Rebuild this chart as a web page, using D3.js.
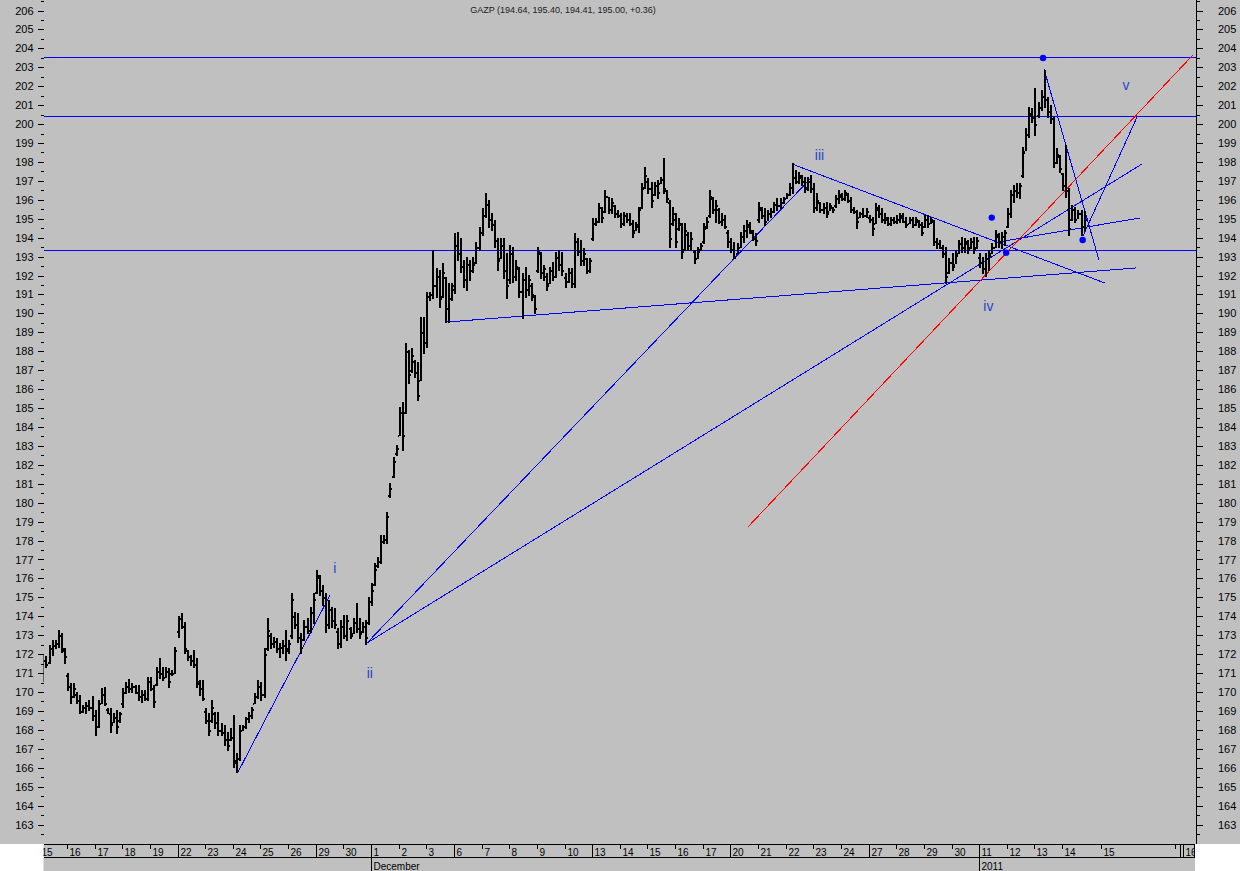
<!DOCTYPE html>
<html><head><meta charset="utf-8">
<script src="https://cdn.jsdelivr.net/npm/d3@7"></script>
<style>html,body{margin:0;padding:0;background:#fff;}svg{display:block}</style>
</head><body>
<svg id="c" width="1240" height="871"></svg>
<script>
// ---- DATA (hourly bars, slot index = array index + 1) ----
const titleText = "GAZP (194.64, 195.40, 194.41, 195.00, +0.36)";
const highs = [
171.95,171.92,172.48,172.75,172.75,173.27,173.10,172.30,
171.00,170.46,170.49,170.00,169.84,169.30,169.49,169.58,169.79,
169.05,169.60,170.19,170.28,169.14,169.14,168.87,169.05,168.96,
170.19,170.54,170.67,170.46,170.37,170.37,170.10,170.10,170.77,
170.77,170.37,171.34,171.78,171.34,171.34,171.25,171.16,172.39,
174.01,174.19,173.71,172.22,171.95,172.22,171.78,170.63,170.63,
169.14,168.87,169.58,168.96,168.96,168.34,168.26,167.90,168.08,
168.78,166.80,168.26,168.26,168.70,168.96,169.22,169.93,170.63,
170.54,172.30,173.89,173.10,172.92,172.83,172.57,172.75,173.27,
172.75,175.21,174.24,174.15,173.10,173.80,173.89,174.50,175.21,
176.44,176.18,175.65,175.21,174.86,174.51,174.42,173.36,173.80,
174.07,174.07,173.45,173.89,174.68,173.89,173.71,173.80,175.00,
175.74,176.80,177.15,178.29,178.29,179.53,181.02,182.43,183.05,
185.07,185.34,188.42,188.07,188.15,187.54,187.45,189.83,189.83,
191.15,191.15,193.35,192.38,192.29,192.64,191.94,191.59,191.59,
194.23,194.32,193.96,192.82,193.00,192.82,193.00,193.79,194.58,
195.55,196.34,195.99,195.29,194.93,193.96,193.96,193.96,193.17,
193.61,193.53,192.82,192.47,192.12,192.47,192.03,191.59,190.97,
193.53,193.26,192.56,192.12,192.47,192.73,193.26,193.35,193.26,
192.12,192.38,192.38,194.23,193.96,193.88,193.44,192.91,192.91,
195.02,195.02,195.81,195.64,196.52,196.17,196.08,195.73,195.46,
195.28,195.37,195.28,195.28,194.93,194.85,195.64,196.87,197.75,
197.13,196.96,196.96,197.05,197.22,198.19,196.52,195.99,195.64,
195.28,195.02,194.76,194.76,194.32,194.32,193.35,193.52,193.70,
194.76,195.11,196.52,196.17,195.99,195.55,195.28,195.20,194.40,
193.96,193.79,193.70,194.32,194.67,194.93,194.85,194.40,194.23,
195.90,195.64,195.55,195.46,195.55,195.90,196.08,196.08,196.17,
196.34,196.87,197.93,197.57,197.49,197.31,197.22,197.22,197.31,
196.87,196.34,195.90,195.81,195.90,195.81,195.64,196.26,196.52,
196.34,196.52,196.34,196.17,195.64,195.46,195.37,195.55,195.55,
195.20,195.11,195.81,195.73,195.55,195.28,195.11,195.11,195.11,
195.20,195.29,195.29,195.11,195.11,195.11,195.11,194.93,194.84,
195.20,195.20,195.11,194.93,193.96,193.87,193.61,193.52,192.91,
193.17,193.35,193.87,194.05,193.96,193.87,193.96,194.05,194.05,
193.17,192.99,193.17,193.35,193.70,194.40,194.23,194.32,194.40,
195.55,196.52,196.78,196.87,196.87,198.81,199.78,200.92,200.83,
201.89,201.18,201.80,202.86,201.45,201.01,200.39,198.72,198.37,
197.40,198.90,196.61,195.73,195.64,195.46,195.46,195.40];
const lows = [
170.60,171.30,171.55,171.95,172.30,172.39,172.13,171.55,
170.10,169.43,169.75,169.40,168.87,168.96,168.87,169.05,168.52,
167.73,168.17,169.40,169.31,168.87,167.90,168.43,167.82,168.43,
169.22,169.93,170.02,170.02,169.93,169.58,169.49,169.58,169.58,
170.10,169.22,170.37,170.72,170.63,170.81,170.28,170.90,170.99,
172.92,173.36,172.04,171.69,171.42,171.34,170.28,169.84,169.58,
168.34,167.73,168.43,168.08,167.73,167.73,167.20,166.94,167.46,
166.05,165.75,166.41,168.00,168.08,168.43,168.61,169.40,169.66,
169.58,169.75,172.22,172.30,172.40,172.13,171.86,172.04,171.69,
172.04,172.83,173.36,172.66,172.04,172.75,173.10,173.19,173.63,
175.21,175.12,174.60,173.19,173.36,173.45,173.36,172.30,172.40,
172.83,172.75,172.83,173.10,173.19,172.83,173.19,172.55,173.60,
174.60,175.65,176.62,176.80,177.85,177.85,180.32,181.37,182.52,
183.57,182.78,184.72,186.30,186.92,186.66,185.42,186.48,187.89,
188.24,190.71,190.80,190.88,190.35,190.88,189.56,189.56,190.71,
191.06,192.82,192.20,191.41,191.24,191.76,192.20,192.64,193.35,
194.14,195.11,194.58,194.40,193.53,192.29,192.91,191.85,190.80,
191.59,191.67,191.76,190.88,189.74,190.88,190.97,190.71,190.00,
192.20,191.85,191.76,191.24,191.59,191.76,191.94,192.29,192.03,
191.41,191.68,191.41,191.41,193.08,192.56,192.56,192.12,192.20,
193.88,194.67,194.85,194.85,195.37,195.28,195.28,195.11,195.11,
194.58,194.67,194.85,194.67,194.05,194.40,194.32,195.55,196.61,
196.34,195.64,196.26,196.08,196.87,196.34,195.90,193.52,194.67,
193.52,194.40,192.91,193.35,193.35,193.35,192.64,192.91,193.35,
193.70,194.49,195.11,195.28,194.85,194.76,194.67,194.49,193.52,
193.26,192.91,193.17,193.52,193.79,194.05,194.23,193.88,193.61,
194.85,195.02,194.67,194.93,195.11,195.37,195.46,195.55,195.81,
196.08,196.25,196.34,196.87,196.87,196.78,196.43,196.52,196.43,
195.37,195.46,195.37,195.28,195.11,195.46,195.37,195.64,195.81,
195.99,195.99,195.90,195.37,195.29,194.49,195.11,195.11,195.11,
194.85,194.14,194.76,195.11,194.85,194.76,194.67,194.67,194.76,
194.76,194.85,194.85,194.58,194.76,194.58,194.67,194.58,194.14,
194.58,194.58,194.76,193.61,193.44,193.44,192.99,191.59,192.12,
192.29,192.64,193.17,193.26,193.26,193.17,193.44,193.17,193.44,
192.47,192.12,191.95,192.29,193.17,193.52,193.52,193.43,193.61,
194.58,195.11,195.90,196.17,196.08,197.22,198.63,199.34,200.13,
199.42,200.39,200.74,200.92,200.39,200.04,197.75,197.93,197.49,
196.52,196.17,194.14,194.93,194.84,195.02,194.14,194.41];
const opens = [
170.8,171.7,171.6,172.3,172.5,172.6,173.0,172.2,
170.9,170.3,169.8,169.9,169.6,169.0,169.2,169.3,169.2,
168.8,168.2,169.4,169.9,169.1,168.9,168.4,168.7,168.5,
169.4,170.0,170.3,170.2,170.3,170.0,169.8,169.9,169.7,
170.6,170.2,170.4,171.1,171.0,170.8,171.1,171.0,171.0,
173.2,173.9,173.5,172.2,171.9,171.7,171.5,170.5,170.2,
169.0,168.5,168.5,168.9,168.4,168.0,167.9,167.5,167.5,
167.6,166.3,166.5,168.0,168.2,168.6,168.8,169.4,169.8,
170.3,169.9,172.3,173.0,172.6,172.7,172.3,172.4,172.5,
172.3,173.0,174.0,173.6,172.9,172.8,173.5,173.3,174.2,
175.3,176.1,175.4,175.0,173.6,174.4,173.8,173.2,172.6,
173.5,173.0,173.4,173.1,173.7,173.4,173.2,173.5,173.7,
174.8,175.7,176.7,176.9,178.0,178.1,180.4,181.4,182.6,
183.6,184.8,184.8,188.0,187.0,187.5,186.9,186.5,189.0,
188.5,190.9,191.0,191.5,192.0,190.9,191.9,190.3,190.8,
191.5,193.6,193.2,192.5,191.8,192.6,192.3,192.7,193.5,
194.3,195.2,195.8,195.0,194.7,193.9,192.9,193.6,192.3,
191.8,193.2,192.0,192.4,191.2,191.8,191.3,191.5,190.9,
192.3,193.2,192.2,192.0,191.6,192.3,192.0,193.0,192.6,
191.9,191.7,192.2,191.6,193.8,193.3,192.8,192.9,192.3,
194.0,194.8,194.9,195.6,195.4,196.2,195.5,195.7,195.3,
195.2,194.8,195.2,195.0,194.8,194.4,194.6,195.6,196.7,
197.0,196.6,196.3,196.8,196.9,197.1,196.5,195.9,194.8,
195.0,194.5,194.7,193.4,194.2,193.6,193.3,192.9,193.4,
193.8,194.6,195.2,196.1,195.5,195.5,194.9,195.0,194.3,
193.8,193.4,193.2,193.5,194.1,194.4,194.6,194.3,194.0,
195.0,195.5,195.2,194.9,195.3,195.4,195.8,195.7,195.9,
196.1,196.3,196.7,197.2,197.0,197.2,197.0,196.7,197.0,
196.6,195.6,195.9,195.5,195.6,195.4,195.6,195.7,196.1,
196.2,196.1,196.3,196.0,195.5,195.4,195.1,195.3,195.2,
195.1,195.0,194.8,195.5,195.3,195.0,195.0,194.8,195.0,
194.9,195.0,195.1,194.9,194.8,195.0,194.7,194.9,194.7,
194.6,195.0,194.8,194.9,193.8,193.7,193.5,193.2,192.2,
192.7,192.6,193.2,193.7,193.5,193.7,193.5,193.8,193.5,
193.0,192.7,192.4,192.9,193.2,193.5,194.1,193.8,194.1,
194.6,195.3,196.3,196.5,196.4,197.3,198.6,199.5,200.5,
200.4,200.5,200.9,201.5,201.3,200.7,200.3,198.0,198.3,
197.4,196.8,196.5,195.0,195.5,195.0,195.3,194.64];
const closes = [
171.7,171.5,172.3,172.5,172.6,173.0,172.3,171.9,
170.3,169.8,170.2,169.6,169.0,169.2,169.3,169.2,168.8,
168.2,169.4,169.9,169.4,168.9,168.3,168.7,168.2,168.9,
170.0,170.3,170.2,170.3,170.0,169.8,169.9,169.7,170.6,
170.2,169.5,171.1,171.0,170.8,171.1,170.6,171.0,172.2,
173.9,173.5,172.3,171.9,171.7,171.5,170.6,170.2,169.7,
168.5,168.0,169.2,168.4,168.0,167.9,167.5,167.2,167.6,
166.4,166.5,168.0,168.2,168.6,168.8,169.1,169.8,170.3,
169.9,172.0,173.3,172.6,172.7,172.3,172.4,172.5,172.2,
172.6,174.9,173.6,172.9,172.4,173.5,173.3,174.2,174.9,
176.2,175.4,175.0,173.6,174.4,173.8,173.6,172.6,173.5,
173.0,173.8,173.0,173.7,173.4,173.1,173.5,172.9,174.8,
175.4,176.5,176.9,178.0,178.1,179.3,180.8,182.2,182.9,
184.8,183.6,188.0,186.8,187.8,186.9,185.7,189.0,188.5,
190.9,191.0,191.5,192.0,190.8,192.2,190.3,190.8,191.3,
193.6,193.2,192.5,191.8,192.6,192.3,192.6,193.5,194.3,
195.2,195.8,195.0,194.7,193.9,192.8,193.6,192.3,191.5,
193.2,192.0,192.5,191.2,191.8,191.3,191.8,191.0,190.3,
193.3,192.2,192.4,191.5,192.3,192.0,193.0,192.6,192.3,
191.7,192.2,191.6,193.8,193.3,192.8,193.2,192.3,192.8,
194.8,194.9,195.6,195.1,196.2,195.5,195.9,195.3,195.2,
194.8,195.2,195.0,194.8,194.3,194.7,195.5,196.6,197.3,
196.6,196.0,196.8,196.4,197.1,196.6,196.1,194.0,195.3,
193.8,194.8,193.3,194.4,193.6,194.0,192.9,193.3,193.6,
194.5,194.9,196.2,195.5,195.7,194.9,195.0,194.6,193.8,
193.4,193.0,193.5,194.1,194.4,194.7,194.4,194.0,193.9,
195.6,195.2,194.9,195.3,195.4,195.8,195.7,195.9,196.1,
196.3,196.7,197.2,197.0,197.3,197.0,196.6,197.0,196.6,
195.6,196.0,195.5,195.6,195.3,195.7,195.5,196.1,196.3,
196.1,196.4,196.0,195.5,195.4,194.9,195.3,195.2,195.4,
195.0,194.5,195.6,195.3,195.0,195.1,194.8,195.0,194.9,
195.0,195.2,194.9,194.7,195.0,194.7,195.0,194.7,194.3,
195.0,194.8,195.0,193.8,193.7,193.5,193.2,192.0,192.7,
192.5,193.1,193.7,193.5,193.8,193.4,193.8,193.4,193.9,
192.7,192.4,192.9,193.1,193.5,194.2,193.8,194.1,194.3,
195.3,196.3,196.5,196.4,196.8,198.5,199.5,200.6,200.4,
200.0,200.9,201.5,201.3,200.7,200.3,198.0,198.4,197.7,
196.8,196.5,194.5,195.5,195.0,195.3,194.6,195.00];

// trading days (9 hourly slots each), first day starts at slot 0
const dayLabels = ['15','16','17','18','19','22','23','24','25','26','29','30',
 '1','2','3','6','7','8','9','10','13','14','15','16','17','20','21','22','23','24','27','28','29','30',
 '11','12','13','14'];
const weekStartDays = [0,5,10,15,20,25,30];
const monthStarts = [{day:12,label:'December'},{day:34,label:'2011'}];
const futureTicks = [{slot:345.8,label:'15',kind:'short'},{slot:369.8,label:'',kind:'short'},{slot:371.4,label:'',kind:'long'},{slot:372.4,label:'16',kind:'long'}];
const slotsPerDay = 9;

// horizontal levels
const levels = [203.52, 200.43, 193.35];
// trend lines: [slot1, price1, slot2, price2, colour]
const trendLines = [
 [64.7,165.77, 94.65,175.12,'blue'],
 [106.7,172.59, 251.6,197.21,'blue'],
 [106.7,172.59, 359.0,197.89,'blue'],
 [132.4,189.54, 357.1,192.40,'blue'],
 [245.1,197.89, 347.0,191.60,'blue'],
 [230.7,178.71, 375.6,203.65,'red'],
 [327.1,202.91, 345.0,192.82,'blue'],
 [312.1,193.77, 358.4,195.04,'blue'],
 [339.8,194.09, 357.4,200.37,'blue']
];
const dots = [[326.8,203.49],[310.1,195.06],[314.8,193.20],[339.7,193.88]];
const waveLabels = [
 {t:'i',slot:96.2,p:176.3},
 {t:'ii',slot:107.6,p:170.75},
 {t:'iii',slot:254.0,p:198.1},
 {t:'iv',slot:309.0,p:190.1},
 {t:'v',slot:353.8,p:201.8}
];
const yMajor = d3.range(163,207);
const yMinor = d3.range(162.5,207,1);

// ---- DRAW ----
const W=1240,H=871, plotL=43.5, plotR=1196, plotB=844, stripR=1195;
const font = "'Liberation Sans', Arial, sans-serif";
const svg = d3.select('#c');
const x = d3.scaleLinear().domain([0,376.6]).range([39.3,1196]);
const y = d3.scaleLinear().domain([163,206]).range([824.5,10.5]);

svg.append('rect').attr('width',W).attr('height',plotB).attr('fill','#c0c0c0');
svg.append('rect').attr('x',plotL).attr('y',plotB).attr('width',stripR-plotL).attr('height',H-plotB).attr('fill','#c0c0c0');

svg.append('defs').append('clipPath').attr('id','clip').append('rect')
  .attr('x',plotL).attr('y',0).attr('width',plotR-plotL).attr('height',plotB);
svg.append('defs').append('clipPath').attr('id','clipAx').append('rect')
  .attr('x',plotL).attr('y',plotB).attr('width',stripR-plotL).attr('height',H-plotB);

// title
svg.append('text').attr('x',563).attr('y',13).attr('text-anchor','middle')
  .attr('font-family',font).attr('font-size',9).attr('fill','#202020').text(titleText);

// y axes
function styleAxis(g){ g.select('.domain').remove(); g.selectAll('text').attr('font-family',font).attr('font-size',11).attr('fill','#000'); g.selectAll('line').attr('stroke','#000').attr('shape-rendering','crispEdges'); }
svg.append('g').attr('transform',`translate(${plotL},0)`).call(d3.axisLeft(y).tickValues(yMajor).tickSize(6).tickPadding(4).tickFormat(d3.format('d'))).call(styleAxis);
svg.append('g').attr('transform',`translate(${plotL},0)`).call(d3.axisLeft(y).tickValues(yMinor).tickSize(3).tickFormat('')).call(styleAxis);
svg.append('g').attr('transform',`translate(${plotR},0)`).call(d3.axisRight(y).tickValues(yMajor).tickSize(7).tickPadding(15).tickFormat(d3.format('d'))).call(styleAxis);
svg.append('g').attr('transform',`translate(${plotR},0)`).call(d3.axisRight(y).tickValues(yMinor).tickSize(4).tickFormat('')).call(styleAxis);
svg.append('line').attr('x1',plotR+0.5).attr('x2',plotR+0.5).attr('y1',0).attr('y2',plotB).attr('stroke','#000');

// plot content
const g = svg.append('g').attr('clip-path','url(#clip)').attr('shape-rendering','crispEdges');
levels.forEach(p=>{
  const yy=Math.round(y(p))+0.5;
  g.append('line').attr('x1',plotL).attr('x2',plotR).attr('y1',yy).attr('y2',yy).attr('stroke','#0000ff').attr('stroke-width',1);
});
trendLines.forEach(l=>{
  g.append('line').attr('x1',x(l[0])).attr('y1',y(l[1])).attr('x2',x(l[2])).attr('y2',y(l[3]))
   .attr('stroke',l[4]==='red'?'#ff0000':'#0000ff').attr('stroke-width',1);
});
const bars = g.append('g');
highs.forEach((h,i)=>{
  const s=i+1, xl=Math.round(x(s));
  const yt=Math.round(y(h)), yb=Math.round(y(lows[i]));
  bars.append('rect').attr('x',xl).attr('y',yt).attr('width',2).attr('height',Math.max(1,yb-yt+1)).attr('fill','#000');
  bars.append('rect').attr('x',xl-1).attr('y',Math.round(y(opens[i]))).attr('width',1).attr('height',2).attr('fill','#000');
  bars.append('rect').attr('x',xl+2).attr('y',Math.round(y(closes[i]))).attr('width',1).attr('height',2).attr('fill','#000');
});
dots.forEach(d=>{
  g.append('circle').attr('cx',x(d[0])).attr('cy',y(d[1])).attr('r',3.2).attr('fill','#0000ff').attr('shape-rendering','auto');
});
waveLabels.forEach(w=>{
  g.append('text').attr('x',x(w.slot)).attr('y',y(w.p)).attr('text-anchor','middle')
   .attr('font-family',font).attr('font-size',14).attr('fill','#2a44c8').text(w.t);
});

// bottom date axis
const ax = svg.append('g').attr('clip-path','url(#clipAx)').attr('shape-rendering','crispEdges');
ax.append('line').attr('x1',plotL).attr('x2',stripR).attr('y1',plotB+0.5).attr('y2',plotB+0.5).attr('stroke','#000');
ax.append('line').attr('x1',plotL).attr('x2',stripR).attr('y1',857.5).attr('y2',857.5).attr('stroke','#000');
dayLabels.forEach((lab,d)=>{
  const xx=Math.round(x(d*slotsPerDay))+0.5;
  const isMonth = monthStarts.some(m=>m.day===d);
  const isWeek = weekStartDays.includes(d);
  const y2 = isMonth ? H : (isWeek ? 857 : 849);
  ax.append('line').attr('x1',xx).attr('x2',xx).attr('y1',plotB).attr('y2',y2).attr('stroke','#000');
  ax.append('text').attr('x',xx+2).attr('y',855.5).attr('font-family',font).attr('font-size',10).attr('fill','#000').text(lab);
});
monthStarts.forEach(m=>{
  const xx=Math.round(x(m.day*slotsPerDay))+0.5;
  ax.append('text').attr('x',xx+2).attr('y',869.5).attr('font-family',font).attr('font-size',10).attr('fill','#000').text(m.label);
});
futureTicks.forEach(f=>{
  const xx=Math.round(x(f.slot))+0.5;
  ax.append('line').attr('x1',xx).attr('x2',xx).attr('y1',plotB).attr('y2',f.kind==='long'?857:849).attr('stroke','#000');
  if(f.label) ax.append('text').attr('x',xx+2).attr('y',855.5).attr('font-family',font).attr('font-size',10).attr('fill','#000').text(f.label);
});
ax.append('line').attr('x1',stripR-0.5).attr('x2',stripR-0.5).attr('y1',plotB).attr('y2',857).attr('stroke','#000');
</script>
</body></html>
